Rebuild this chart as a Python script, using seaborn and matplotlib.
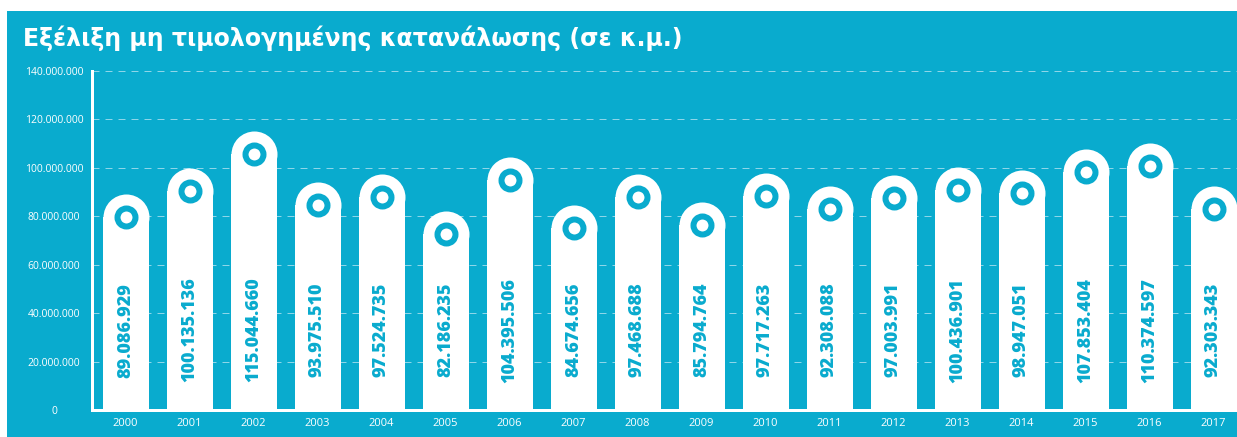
import numpy as np
import pandas as pd
import matplotlib
matplotlib.use("Agg")
import matplotlib.pyplot as plt
import seaborn as sns
from matplotlib.patches import Rectangle

# ---- data ----
years = [str(y) for y in range(2000, 2018)]
values = [89086929, 100135136, 115044660, 93975510, 97524735, 82186235,
          104395506, 84674656, 97468688, 85794764, 97717263, 92308088,
          97003991, 100436901, 98947051, 107853404, 110374597, 92303343]
y_ticks = [0, 20000000, 40000000, 60000000, 80000000, 100000000, 120000000, 140000000]
y_labels = ["0", "20.000.000", "40.000.000", "60.000.000", "80.000.000",
            "100.000.000", "120.000.000", "140.000.000"]
title = "Εξέλιξη μη τιμολογημένης κατανάλωσης (σε κ.μ.)"

CYAN = "#09ABCE"
GRID = "#8ED6E9"
W, H, DPI = 1237, 437, 100

sns.set_theme(style="white")
plt.rcParams["font.family"] = ["Open Sans", "DejaVu Sans"]

fig = plt.figure(figsize=(W / DPI, H / DPI), dpi=DPI, facecolor="white")
fig.patches.append(Rectangle((7 / W, -0.1), 1.2, (H - 11) / H + 0.1, transform=fig.transFigure,
                             facecolor=CYAN, edgecolor="none", zorder=-10))

ax_left, ax_bottom, ax_top = 92, 27, 366
ax = fig.add_axes([ax_left / W, ax_bottom / H, (W - ax_left) / W, (ax_top - ax_bottom) / H])
ax.set_facecolor("none")

ymax = 140000000
px_per_unit = (ax_top - ax_bottom) / ymax
bar_px, slot_px = 46, 64
bar_w = bar_px / slot_px
r_data = (bar_px / 2) / px_per_unit

df = pd.DataFrame({"year": years, "value": values})
df["body"] = df["value"] - r_data

sns.barplot(data=df, x="year", y="body", color="white", width=bar_w, saturation=1,
            linewidth=0, ax=ax, zorder=2)

xs = np.arange(len(years))
pt = 72 / DPI
ax.scatter(xs, df["body"], s=(bar_px * pt) ** 2, c="white", marker="o",
           linewidths=0, zorder=3)
ax.scatter(xs, df["body"], s=(18 * pt) ** 2, facecolors="white", edgecolors=CYAN,
           marker="o", linewidths=6 * pt, zorder=4)

for i, v in enumerate(values):
    ax.text(i, 33000000, f"{v:,}".replace(",", "."), rotation=90, ha="center", va="center",
            color=CYAN, fontsize=13, fontweight=800, zorder=5)

ax.set_ylim(0, ymax)
ax.set_xlim(-(125.5 - ax_left) / slot_px, (W - 125.5) / slot_px)

ax.set_axisbelow(True)
for yv in y_ticks[1:]:
    ax.axhline(yv, color=GRID, linewidth=1 * pt, linestyle=(0, (7, 6)), zorder=0)

ax.set_yticks(y_ticks, y_labels)
for lab in ax.get_yticklabels():
    lab.set_horizontalalignment("center")
ax.tick_params(axis="y", length=0, pad=38 * pt, labelsize=7.5, labelcolor="white")
ax.tick_params(axis="x", length=0, pad=6, labelsize=8, labelcolor="white")
ax.set_xlabel("")
ax.set_ylabel("")

for s in ["top", "right"]:
    ax.spines[s].set_visible(False)
for s in ["left", "bottom"]:
    ax.spines[s].set_color("white")
    ax.spines[s].set_linewidth(3 * pt)
    ax.spines[s].set_zorder(6)

fig.text(23 / W, (H - 46) / H, title, color="white", fontsize=17, fontweight="bold",
         va="baseline", ha="left", family=["DejaVu Sans"])

fig.savefig("out.png", dpi=DPI, facecolor="white")
